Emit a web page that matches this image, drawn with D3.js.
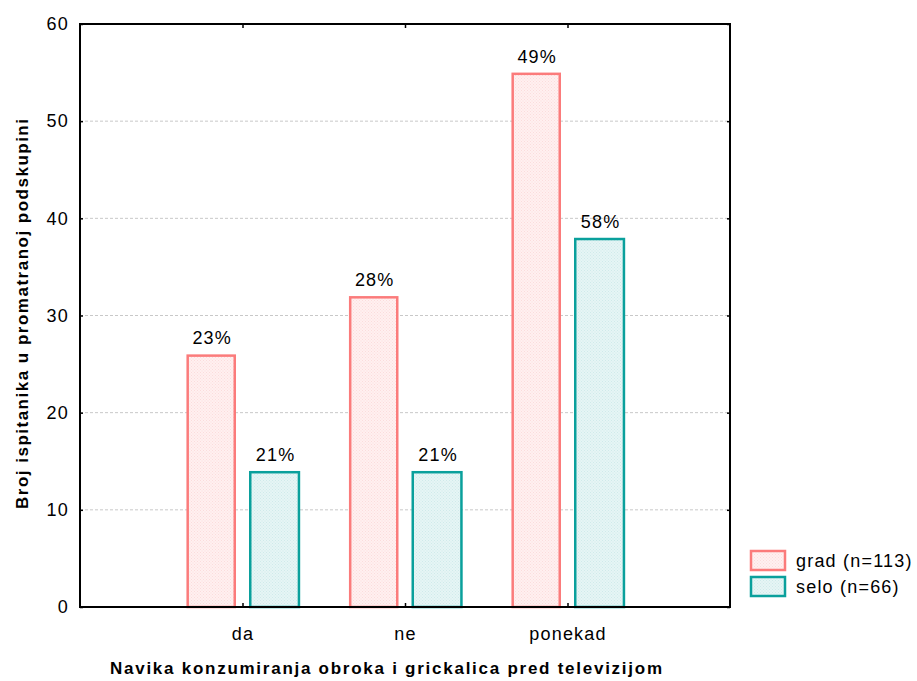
<!DOCTYPE html>
<html>
<head>
<meta charset="utf-8">
<script src="https://cdn.jsdelivr.net/npm/d3@7"></script>
<style>
  body { margin: 0; background: #fff; }
  text { font-family: "Liberation Sans", Arial, sans-serif; fill: #000; }
  .lbl { font-size: 18px; letter-spacing: 1.2px; }
</style>
</head>
<body>
<div id="chart"></div>
<script>
const categories = ["da", "ne", "ponekad"];
const gradValues = [26, 32, 55];
const seloValues = [14, 14, 38];
const gradLabels = ["23%", "28%", "49%"];
const seloLabels = ["21%", "21%", "58%"];
const seriesNames = ["grad (n=113)", "selo (n=66)"];
const yTicks = [0, 10, 20, 30, 40, 50, 60];

const W = 917, H = 681;
const m = {t: 24, r: 187, b: 74, l: 80};
const w = W - m.l - m.r, h = H - m.t - m.b;

const svg = d3.select("#chart").append("svg")
    .attr("width", W).attr("height", H);

// fine dotted fills, like the original hatch
const defs = svg.append("defs");
function dotPattern(id, base, dot) {
    const p = defs.append("pattern").attr("id", id)
        .attr("width", 3).attr("height", 3).attr("patternUnits", "userSpaceOnUse");
    p.append("rect").attr("width", 3).attr("height", 3).attr("fill", base);
    p.append("rect").attr("x", 0).attr("y", 0).attr("width", 1).attr("height", 1).attr("fill", dot);
    p.append("rect").attr("x", 1.5).attr("y", 1.5).attr("width", 1).attr("height", 1).attr("fill", dot);
}
dotPattern("pGrad", "#fff0f0", "#fbdcdc");
dotPattern("pSelo", "#e6f5f5", "#cfeaea");

const series = [
    {name: seriesNames[0], values: gradValues, labels: gradLabels, stroke: "#fb7b7b", fill: "url(#pGrad)", off: [-0.345, -0.04]},
    {name: seriesNames[1], values: seloValues, labels: seloLabels, stroke: "#0aa09c", fill: "url(#pSelo)", off: [0.04, 0.355]}
];

const g = svg.append("g").attr("transform", "translate(" + m.l + "," + m.t + ")");

const x = d3.scaleLinear().domain([0, categories.length + 1]).range([0, w]);
const y = d3.scaleLinear().domain([0, 60]).range([h, 0]);

// grid lines
g.append("g").selectAll("line").data(yTicks.slice(1, -1)).enter().append("line")
    .attr("x1", 0).attr("x2", w)
    .attr("y1", d => y(d)).attr("y2", d => y(d))
    .attr("stroke", "#c8c8c8").attr("stroke-width", 1)
    .attr("stroke-dasharray", "3,2");

// bars
series.forEach(function(s) {
    const bg = g.append("g");
    bg.selectAll("rect").data(s.values).enter().append("rect")
        .attr("x", (d, i) => x(i + 1 + s.off[0]) + 1.25)
        .attr("width", x(s.off[1]) - x(s.off[0]) - 2.5)
        .attr("y", d => y(d) + 1.25)
        .attr("height", d => y(0) - y(d) - 1.25)
        .attr("fill", s.fill)
        .attr("stroke", s.stroke).attr("stroke-width", 2.5);
    bg.selectAll("text").data(s.values).enter().append("text")
        .attr("class", "lbl")
        .attr("x", (d, i) => x(i + 1 + (s.off[0] + s.off[1]) / 2) + 1)
        .attr("y", d => y(d) - 10)
        .attr("text-anchor", "middle")
        .text((d, i) => s.labels[i]);
});

// axes
const yAxis = d3.axisLeft(y).tickValues(yTicks).tickSize(-3).tickPadding(11);
g.append("g").call(yAxis)
    .call(a => a.select(".domain").remove())
    .call(a => a.selectAll(".tick text").attr("class", "lbl"))
    .call(a => a.selectAll(".tick line").attr("stroke-width", 1.5));
g.append("g").attr("transform", "translate(" + w + ",0)")
    .call(d3.axisRight(y).tickValues(yTicks).tickSize(-3).tickFormat(""))
    .call(a => a.select(".domain").remove())
    .call(a => a.selectAll(".tick line").attr("stroke-width", 1.5));

const catTicks = categories.map((c, i) => i + 1);
g.append("g").attr("transform", "translate(0," + h + ")")
    .call(d3.axisBottom(x).tickValues(catTicks).tickSize(-4).tickPadding(20)
        .tickFormat((d, i) => categories[i]))
    .call(a => a.select(".domain").remove())
    .call(a => a.selectAll(".tick text").attr("class", "lbl"))
    .call(a => a.selectAll(".tick line").attr("stroke-width", 1.5));
g.append("g")
    .call(d3.axisTop(x).tickValues(catTicks).tickSize(-4).tickFormat(""))
    .call(a => a.select(".domain").remove())
    .call(a => a.selectAll(".tick line").attr("stroke-width", 1.5));
g.selectAll(".tick text").style("font-family", "'Liberation Sans', Arial, sans-serif");

// frame
g.append("rect").attr("width", w).attr("height", h)
    .attr("fill", "none").attr("stroke", "#000").attr("stroke-width", 2);

// axis titles
svg.append("text")
    .attr("transform", "translate(28,314) rotate(-90)")
    .attr("text-anchor", "middle")
    .attr("textLength", 390).attr("lengthAdjust", "spacing")
    .style("font-size", "17px").style("font-weight", "bold")
    .text("Broj ispitanika u promatranoj podskupini");
svg.append("text")
    .attr("x", 386).attr("y", 674)
    .attr("text-anchor", "middle")
    .attr("textLength", 552).attr("lengthAdjust", "spacing")
    .style("font-size", "17px").style("font-weight", "bold")
    .text("Navika konzumiranja obroka i grickalica pred televizijom");

// legend
const leg = svg.append("g").attr("transform", "translate(751,551)");
const li = leg.selectAll("g").data(series).enter().append("g")
    .attr("transform", (d, i) => "translate(0," + i * 26 + ")");
li.append("rect").attr("width", 34).attr("height", 19)
    .attr("fill", d => d.fill).attr("stroke", d => d.stroke).attr("stroke-width", 2.5);
li.append("text").attr("class", "lbl").attr("x", 45).attr("y", 16)
    .text(d => d.name);
</script>
</body>
</html>
